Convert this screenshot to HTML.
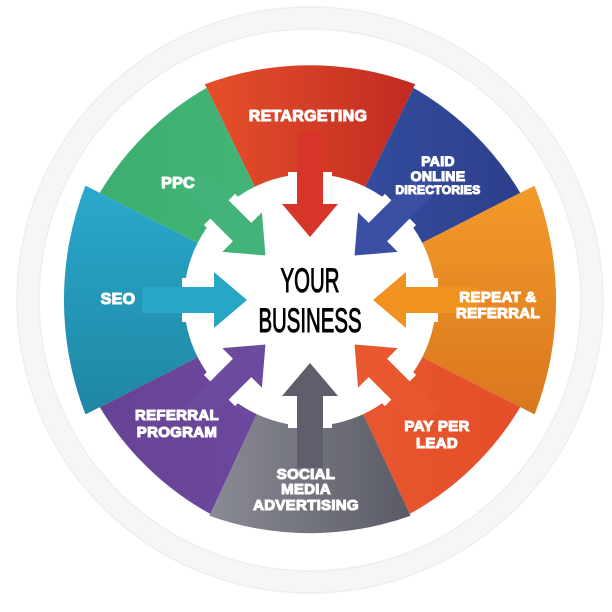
<!DOCTYPE html>
<html><head><meta charset="utf-8">
<style>
html,body{margin:0;padding:0;background:#fff;}
svg{display:block}
.l{font-family:"Liberation Sans",sans-serif;font-weight:bold;fill:#fff;text-anchor:middle;stroke:#fff;stroke-width:1.1;letter-spacing:0.3px}
.c{font-family:"Liberation Sans Narrow","Liberation Sans",sans-serif;font-weight:normal;fill:#000;text-anchor:middle;stroke:#000;stroke-width:1}
</style></head><body>
<svg id="s" width="612" height="612" viewBox="0 0 612 612" xmlns="http://www.w3.org/2000/svg">
<defs>
<linearGradient id="gr" x1="0" x2="1"><stop offset="0" stop-color="#e5502a"/><stop offset="1" stop-color="#c22a22"/></linearGradient>
<linearGradient id="gb" x1="0" x2="1"><stop offset="0" stop-color="#3650a3"/><stop offset="1" stop-color="#2d3f8c"/></linearGradient>
<linearGradient id="go" x1="0" y1="0" x2="0" y2="1"><stop offset="0" stop-color="#f39a2a"/><stop offset="1" stop-color="#d9771e"/></linearGradient>
<linearGradient id="gp" x1="0" x2="1"><stop offset="0" stop-color="#ea5a33"/><stop offset="1" stop-color="#e44d28"/></linearGradient>
<linearGradient id="gg" x1="0" x2="1"><stop offset="0" stop-color="#8a8b94"/><stop offset="1" stop-color="#5a5b66"/></linearGradient>
<linearGradient id="gu" x1="0" x2="1"><stop offset="0" stop-color="#684395"/><stop offset="1" stop-color="#6c4a9e"/></linearGradient>
<linearGradient id="gt" x1="0" y1="0" x2="0" y2="1"><stop offset="0" stop-color="#2aa9cc"/><stop offset="1" stop-color="#1f86a3"/></linearGradient>
<linearGradient id="gn" x1="0" x2="1"><stop offset="0" stop-color="#3cae70"/><stop offset="1" stop-color="#45b77a"/></linearGradient>
</defs>
<circle cx="310" cy="300" r="282" fill="none" stroke="#f6f6f6" stroke-width="22"/>
<circle cx="310" cy="300" r="293" fill="none" stroke="#eeeeee" stroke-width="1.5"/>
<circle cx="310" cy="300" r="271" fill="none" stroke="#eeeeee" stroke-width="1.5"/>
<g id="segs"></g>
<circle cx="310" cy="300" r="126" fill="#fff"/>
<g id="arrows"></g>
<text class="l" x="308" y="121" font-size="16">RETARGETING</text>
<text class="l" font-size="14"><tspan x="438" y="166">PAID</tspan><tspan x="438" y="181">ONLINE</tspan><tspan x="438" y="194" font-size="12">DIRECTORIES</tspan></text>
<text class="l" x="178" y="188" font-size="16">PPC</text>
<text class="l" x="118" y="304" font-size="16">SEO</text>
<text class="l" font-size="15"><tspan x="498" y="302">REPEAT &amp;</tspan><tspan x="498" y="318">REFERRAL</tspan></text>
<text class="l" font-size="15"><tspan x="177" y="420">REFERRAL</tspan><tspan x="177" y="437">PROGRAM</tspan></text>
<text class="l" font-size="15"><tspan x="437" y="431">PAY PER</tspan><tspan x="437" y="448">LEAD</tspan></text>
<text class="l" font-size="15"><tspan x="306" y="479">SOCIAL</tspan><tspan x="306" y="494">MEDIA</tspan><tspan x="306" y="510">ADVERTISING</tspan></text>
<g transform="translate(310,0) scale(0.6,1)">
<text class="c" x="0" y="292" font-size="34">YOUR</text>
<text class="c" x="0" y="332" font-size="34">BUSINESS</text>
</g>
</svg>
<script>
var cx=310,cy=300,NS="http://www.w3.org/2000/svg";
function pt(a,r){var t=a*Math.PI/180;return [cx+r*Math.sin(t),cy-r*Math.cos(t)];}
var segs=[[-26,26,240,"url(#gr)"],[26,63,236,"url(#gb)"],[63,117,252,"url(#go)"],[117,155,236,"url(#gp)"],[155,205,238,"url(#gg)"],[205,243,236,"url(#gu)"],[243,297,252,"url(#gt)"],[297,334,236,"url(#gn)"]];
var g=document.getElementById("segs");
segs.forEach(function(s){var a=pt(s[0],s[2]),b=pt(s[1],s[2]);
var p=document.createElementNS(NS,"path");
p.setAttribute("d","M"+cx+","+cy+"L"+a[0]+","+a[1]+"A"+(s[2]*1.25)+","+(s[2]*1.25)+" 0 0 1 "+b[0]+","+b[1]+"Z");
p.setAttribute("fill",s[3]);g.appendChild(p);});
var cols=["#d8352a","#3a4fa3","#f0921f","#e9572e","#5e5f6b","#6c4a9e","#27a6c6","#43b479"];
var ag=document.getElementById("arrows");
for(var i=0;i<8;i++){
var ang=i*45;
var p=document.createElementNS(NS,"path");
p.setAttribute("d","M-13,-168 L13,-168 L13,-96 L28,-96 L0,-63 L-28,-96 L-13,-96 Z");
p.setAttribute("fill",cols[i]);
p.setAttribute("transform","translate("+cx+","+cy+") rotate("+ang+")");
ag.appendChild(p);
var w=document.createElementNS(NS,"path");
w.setAttribute("d","M-13,-128 L-22,-128 L-22,-120 L-13,-120 Z M13,-128 L22,-128 L22,-120 L13,-120 Z");
w.setAttribute("fill","#fff");
w.setAttribute("transform","translate("+cx+","+cy+") rotate("+ang+")");
ag.appendChild(w);
}
</script>
</body></html>
